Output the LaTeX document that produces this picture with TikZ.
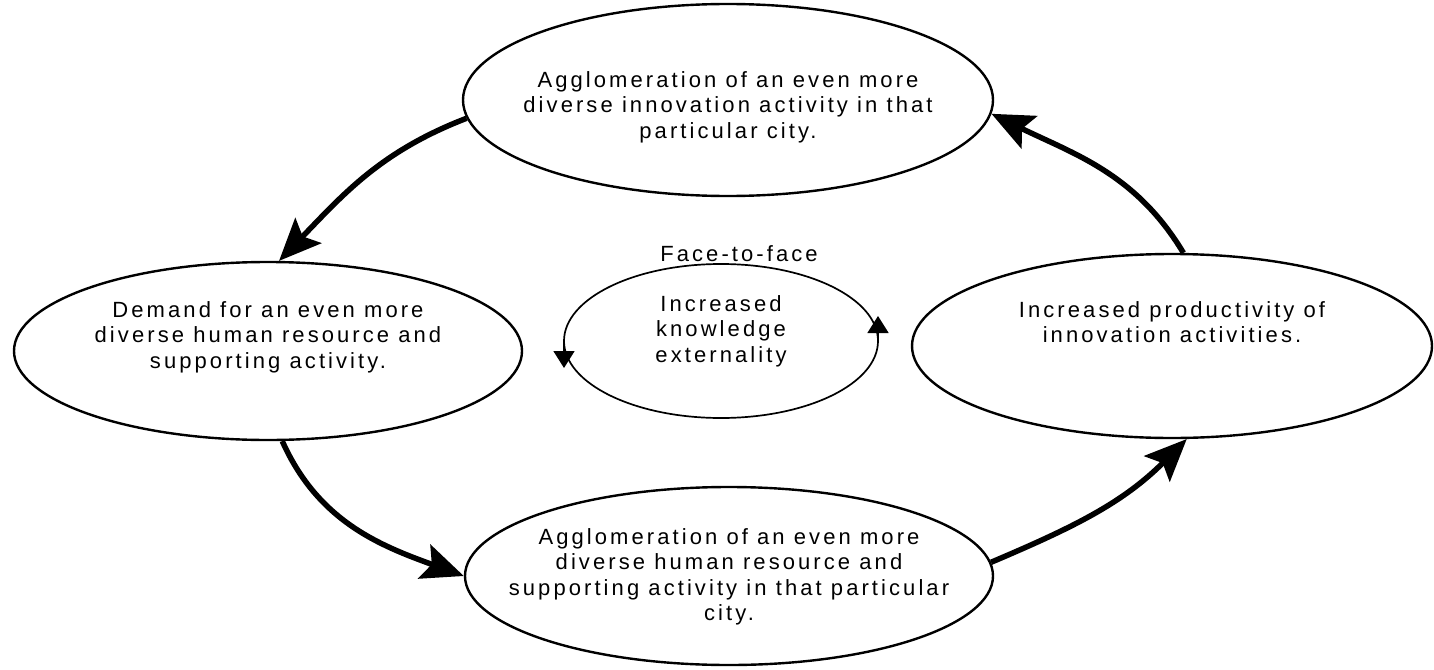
\documentclass[tikz,border=0pt]{standalone}
\usepackage{fontspec}
\setmainfont{Liberation Sans}[LetterSpace=14]
\usetikzlibrary{shapes.geometric, arrows.meta, positioning}

\begin{document}
\begin{tikzpicture}[x=1pt, y=1pt]
    % Default looks for ellipses, texts and arrows
    \tikzstyle{bubble}=[draw, ellipse, line width=2.4pt, inner sep=0pt];
    \tikzstyle{words}=[align=center, inner sep=2pt, font=\fontsize{22}{25.5}\selectfont];
    \tikzstyle{cycle arrow}=[line width=5.5pt, -{Stealth[length=42pt, width=36pt, inset=8pt]}];
    \tikzstyle{inner arrow}=[line width=1.7pt, -{Triangle[length=17pt, width=21pt]}];
    \useasboundingbox (0,0) rectangle (1434,-669);

    % Define and draw the four outer ellipses
    \node [bubble, minimum width=530, minimum height=192,
        label={[words, yshift=-7]center:{Agglomeration of an even more\\diverse innovation activity in that\\particular city.}}]
        (innov) at (728,-100) {};
    \node [bubble, minimum width=508, minimum height=178,
        label={[words, yshift=14]center:{Demand for an even more\\diverse human resource and\\supporting activity.}}]
        (demand) at (268,-351) {};
    \node [bubble, minimum width=528, minimum height=178,
        label={[words, yshift=-1]center:{Agglomeration of an even more\\diverse human resource and\\supporting activity in that particular\\city.}}]
        (agglo) at (729,-576) {};
    \node [bubble, minimum width=520, minimum height=184,
        label={[words, yshift=24]center:{Increased productivity of\\innovation activities.}}]
        (prod) at (1172,-346) {};

    % Inner ellipse and its label
    \node [draw, ellipse, line width=1.7pt, minimum width=314, minimum height=154,
        inner sep=0pt, outer sep=0pt,
        label={[words, yshift=10]center:{Increased\\knowledge\\externality}}]
        (know) at (721,-341) {};
    \node [words, above=0pt of know, xshift=18pt] (face) {Face-to-face};

    % Arrow tips of the inner loop
    \draw [inner arrow] (know.east) -- ++(0,25);
    \draw [inner arrow] (know.west) -- ++(0,-27);

    % Draw the outer cycle
    \draw [cycle arrow] (innov.184) to [out=201, in=46] (demand.83);
    \draw [cycle arrow] (demand.279) to [out=-66, in=160] (agglo.180);
    \draw [cycle arrow] (agglo.3) to [out=23, in=225] (prod.279);
    \draw [cycle arrow] (prod.83) to [out=121, in=-26] (innov.357);
\end{tikzpicture}
\end{document}
